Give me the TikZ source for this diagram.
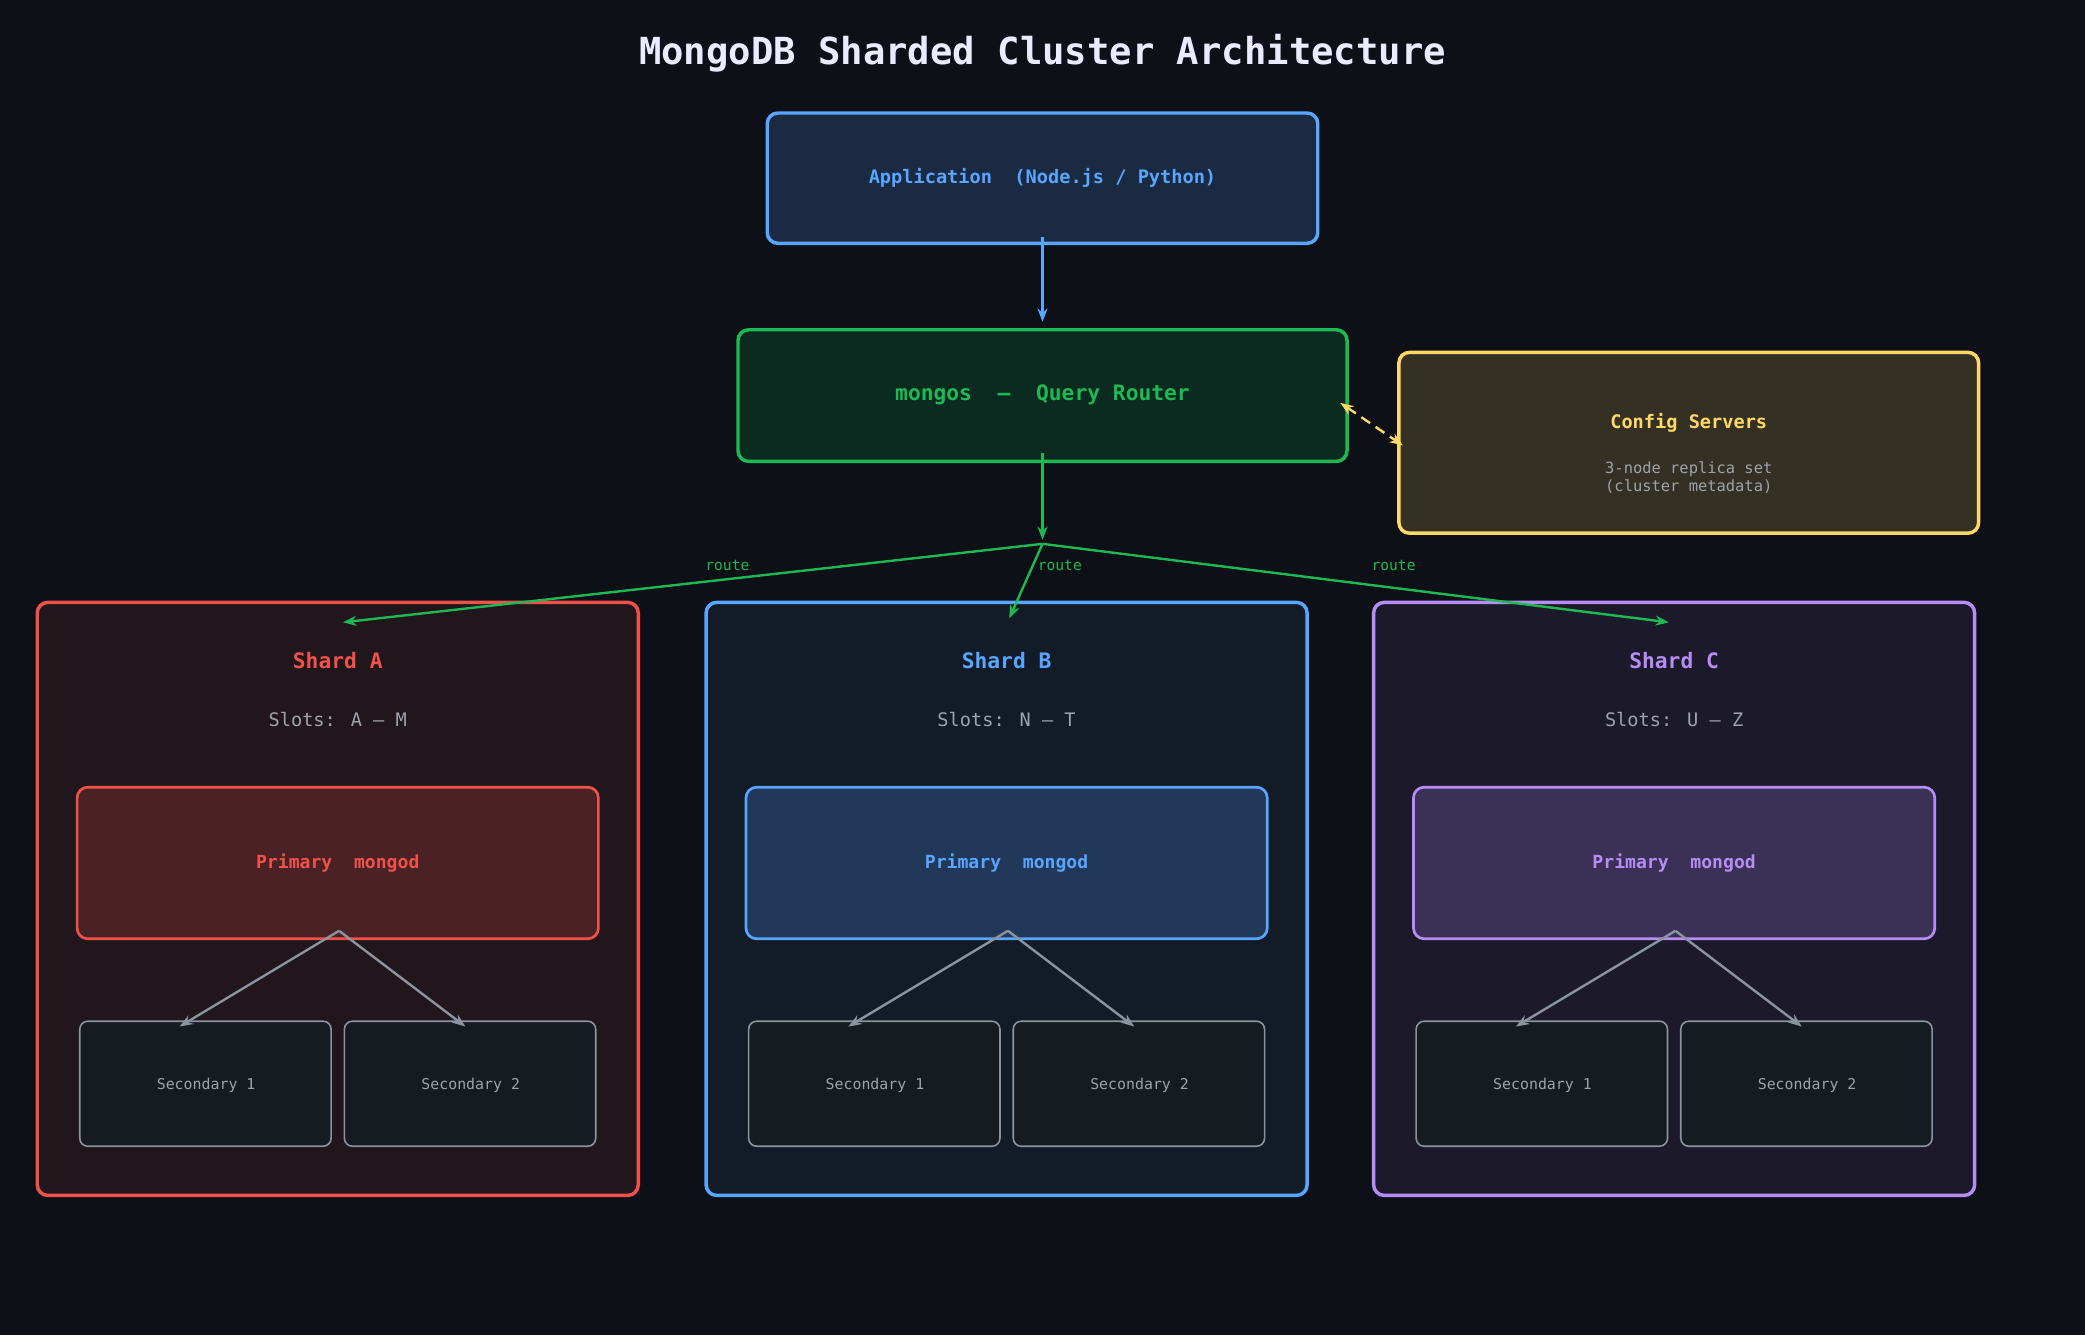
\documentclass[tikz,border=0pt]{standalone}
\usepackage{fontspec}
\setmainfont{DejaVu Sans Mono}
\usetikzlibrary{arrows.meta}
\definecolor{bg}{HTML}{0D1016}
\definecolor{blu}{HTML}{58A6FF}
\definecolor{grn}{HTML}{1DB954}
\definecolor{yel}{HTML}{FFD866}
\definecolor{red}{HTML}{F0524A}
\definecolor{pur}{HTML}{B68CF5}
\definecolor{gry}{HTML}{8B949E}
\definecolor{txt}{HTML}{9DA3AA}
\definecolor{appf}{HTML}{1A2A42}
\definecolor{mgf}{HTML}{0B2A20}
\definecolor{cff}{HTML}{353024}
\definecolor{secf}{HTML}{161B22}
\definecolor{fA}{HTML}{21161B}\definecolor{fB}{HTML}{131B27}\definecolor{fC}{HTML}{1C1A2A}
\definecolor{pA}{HTML}{4A2226}\definecolor{pB}{HTML}{213858}\definecolor{pC}{HTML}{3B3055}
\tikzset{
 box/.style={draw, rounded corners=4pt, line width=1.3pt},
 sec/.style={draw=gry, fill=secf, rounded corners=3pt, line width=0.6pt},
 arr/.style={-{Stealth[length=5pt]}, line width=0.9pt},
 lbl/.style={font=\fontsize{7}{8}\selectfont, text=txt, align=center},
}
\begin{document}
\begin{tikzpicture}[x=0.5pt,y=-0.5pt]
\fill[bg] (0,0) rectangle (1568,1004);
\useasboundingbox (0,0) rectangle (1568,1004);
\node[text=white!92!blue, font=\fontsize{14}{16}\selectfont\bfseries] (title) at (784,40) {MongoDB Sharded Cluster Architecture};
\draw[box, draw=blu, fill=appf] (577,85) rectangle (991,183);
\node[text=blu, font=\fontsize{7}{8}\selectfont\bfseries] (app) at (784,134) {Application\ \ (Node.js / Python)};
\draw[box, draw=grn, fill=mgf] (555,248) rectangle (1013,347);
\node[text=grn, font=\fontsize{8}{9}\selectfont\bfseries] (mongos) at (784,297) {mongos\ \ –\ \ Query Router};
\draw[box, draw=yel, fill=cff] (1052,265) rectangle (1488,401);
\node[text=yel, font=\fontsize{7}{8}\selectfont\bfseries] (cfg) at (1270,318) {Config Servers};
\node[lbl, font=\fontsize{5.8}{6.8}\selectfont] (cfgs) at (1270,359) {3-node replica set\\(cluster metadata)};
\coordinate (appb) at (784,178); \coordinate (mgt) at (784,242);
\draw[arr, blu] (appb) -- (mgt);
\coordinate (mgr) at (1008,303); \coordinate (cfl) at (1055,335);
\draw[{Stealth[length=5pt]}-{Stealth[length=5pt]}, yel, line width=0.9pt, dash pattern=on 4pt off 2.5pt] (mgr) -- (cfl);
\coordinate (mgb) at (784,341); \coordinate (hub) at (784,409); \coordinate (hubt) at (784,406);
\draw[arr, grn] (mgb) -- (hubt);
\foreach \n/\x/\tx/\ty/\lx/\c/\f/\p/\sl in {A/28/258/468/547/red/fA/pA/A – M, B/531/759/465/797/blu/fB/pB/N – T, C/1033/1255/468/1048/pur/fC/pC/U – Z}{
  \coordinate (t\n) at (\tx,\ty);
  \draw[box, draw=\c, fill=\f] (\x,453) rectangle ++(452,446);
  \draw[arr, grn] (hub) -- (t\n);
  \node[text=grn, font=\fontsize{5.5}{6}\selectfont] (r\n) at (\lx,425) {route};
  \node[text=\c, font=\fontsize{8}{9}\selectfont\bfseries] (sh\n) at (\x+226,497) {Shard \n};
  \node[lbl] (sl\n) at (\x+226,541) {Slots: \sl};
  \draw[box, draw=\c, fill=\p, line width=1pt] (\x+30,592) rectangle ++(392,114);
  \node[text=\c, font=\fontsize{6.8}{8}\selectfont\bfseries] (pr\n) at (\x+226,649) {Primary\ \ mongod};
  \draw[sec] (\x+32,768) rectangle ++(189,94);
  \draw[sec] (\x+231,768) rectangle ++(189,94);
  \node[lbl, font=\fontsize{5.6}{6}\selectfont] (sa\n) at (\x+127,816) {Secondary 1};
  \node[lbl, font=\fontsize{5.6}{6}\selectfont] (sb\n) at (\x+326,816) {Secondary 2};
  \coordinate (pb\n) at (\x+227,700);
  \coordinate (ea\n) at (\x+107,772);
  \coordinate (eb\n) at (\x+322,772);
  \draw[arr, gry] (pb\n) -- (ea\n);
  \draw[arr, gry] (pb\n) -- (eb\n);
}
\end{tikzpicture}
\end{document}
